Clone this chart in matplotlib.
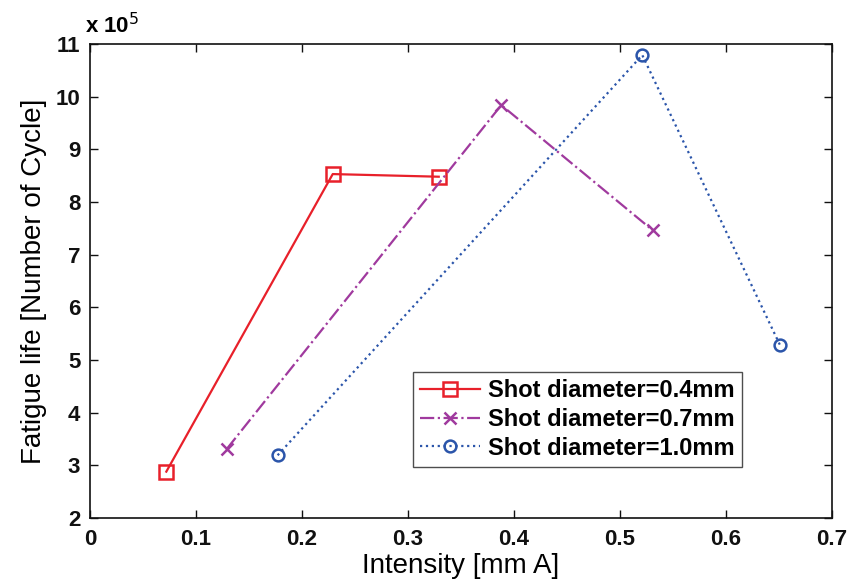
import matplotlib
matplotlib.use("Agg")
import matplotlib.pyplot as plt

# Shot peening results: fatigue life vs. Almen intensity for three shot sizes
x_04 = [0.072, 0.229, 0.329]
y_04 = [2.88, 8.53, 8.48]

x_07 = [0.129, 0.388, 0.531]
y_07 = [3.31, 9.84, 7.46]

x_10 = [0.177, 0.521, 0.651]
y_10 = [3.19, 10.79, 5.28]

labels = ["Shot diameter=0.4mm", "Shot diameter=0.7mm", "Shot diameter=1.0mm"]
xticks = [0, 0.1, 0.2, 0.3, 0.4, 0.5, 0.6, 0.7]
yticks = [2, 3, 4, 5, 6, 7, 8, 9, 10, 11]

plt.rcParams["font.family"] = ["Liberation Sans", "DejaVu Sans"]

fig = plt.figure(figsize=(8.53, 5.82), dpi=100)
ax = fig.add_axes([0.1055, 0.110, 0.8699, 0.8144])

red = "#e8202a"
purple = "#a03a9e"
blue = "#2b55aa"

ax.plot(x_04, y_04, color=red, linestyle="-", linewidth=1.6, marker="s",
        markersize=9.5, markerfacecolor="none", markeredgewidth=1.8, label=labels[0])
ax.plot(x_07, y_07, color=purple, linestyle="-.", linewidth=1.6, marker="x",
        markersize=9, markeredgewidth=1.8, label=labels[1])
ax.plot(x_10, y_10, color=blue, linestyle=":", linewidth=1.6, marker="o",
        markersize=8.5, markerfacecolor="none", markeredgewidth=1.8, label=labels[2])

ax.set_xlim(0, 0.7)
ax.set_ylim(2, 11)
ax.set_xticks(xticks)
ax.set_yticks(yticks)
ax.set_xticklabels([f"{v:g}" for v in xticks])
ax.set_yticklabels([f"{v:g}" for v in yticks])
for lab in ax.get_xticklabels() + ax.get_yticklabels():
    lab.set_fontweight("bold")
    lab.set_fontsize(16)

ax.tick_params(direction="in", top=True, right=True, length=6, width=1.0,
               colors="#111111")
ax.tick_params(axis="x", pad=8)
ax.tick_params(axis="y", pad=7)
for s in ax.spines.values():
    s.set_linewidth(1.2)
    s.set_color("#111111")

ax.set_xlabel("Intensity [mm A]", fontsize=20, labelpad=2)
ax.set_ylabel("Fatigue life [Number of Cycle]", fontsize=20, labelpad=6)

ax.text(-0.007, 1.012, r"x 10$^{5}$", transform=ax.transAxes, fontsize=16,
        fontweight="bold", ha="left", va="bottom")

leg = ax.legend(loc="lower left", bbox_to_anchor=(0.435, 0.108),
                prop={"weight": "bold", "size": 17}, frameon=True, fancybox=False,
                edgecolor="#222222", handlelength=2.55, borderpad=0.3,
                labelspacing=0.25, handletextpad=0.35, borderaxespad=0)
leg.get_frame().set_linewidth(1.0)

fig.savefig("out.png", dpi=100)
